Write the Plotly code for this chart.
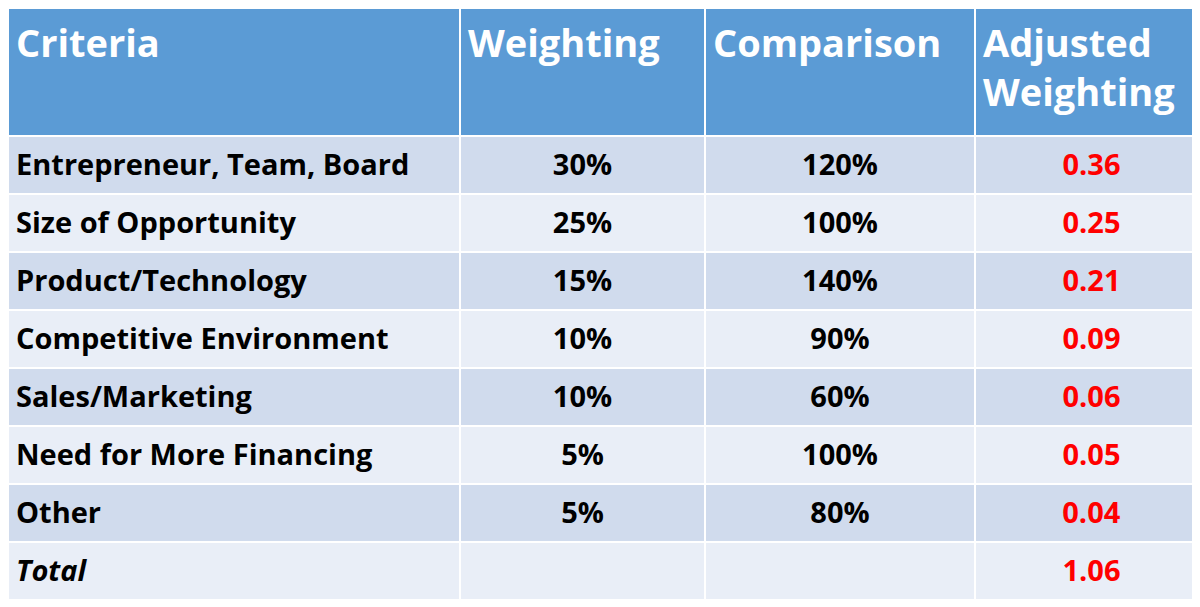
import plotly.graph_objects as go

criteria = ["Entrepreneur, Team, Board", "Size of Opportunity", "Product/Technology",
            "Competitive Environment", "Sales/Marketing", "Need for More Financing",
            "Other", "<i>Total</i>"]
weighting = ["30%", "25%", "15%", "10%", "10%", "5%", "5%", ""]
comparison = ["120%", "100%", "140%", "90%", "60%", "100%", "80%", ""]
adjusted = ["0.36", "0.25", "0.21", "0.09", "0.06", "0.05", "0.04", "1.06"]
headers = ["Criteria", "Weighting", "Comparison", "Adjusted<br>Weighting"]

def bold(xs):
    return ["<b>%s</b>" % x if x else "" for x in xs]

row_fill = ["#d0dbed" if i % 2 == 0 else "#e9eef7" for i in range(len(criteria))]

fig = go.Figure(go.Table(
    columnwidth=[452, 245, 270, 233],
    header=dict(
        values=bold(headers),
        fill_color="#5b9bd5",
        line=dict(color="white", width=2),
        font=dict(family="Open Sans", size=38, color="white"),
        align="left",
        height=128,
    ),
    cells=dict(
        values=[bold(criteria), bold(weighting), bold(comparison), bold(adjusted)],
        fill_color=[row_fill] * 4,
        line=dict(color="white", width=2),
        font=dict(family="Open Sans", size=29,
                  color=["black", "black", "black", "red"]),
        align=["left", "center", "center", "center"],
        height=58,
    ),
))
fig.update_layout(width=1200, height=607, margin=dict(l=0, r=0, t=0, b=0),
                  paper_bgcolor="white")
fig.write_html("out.html")
